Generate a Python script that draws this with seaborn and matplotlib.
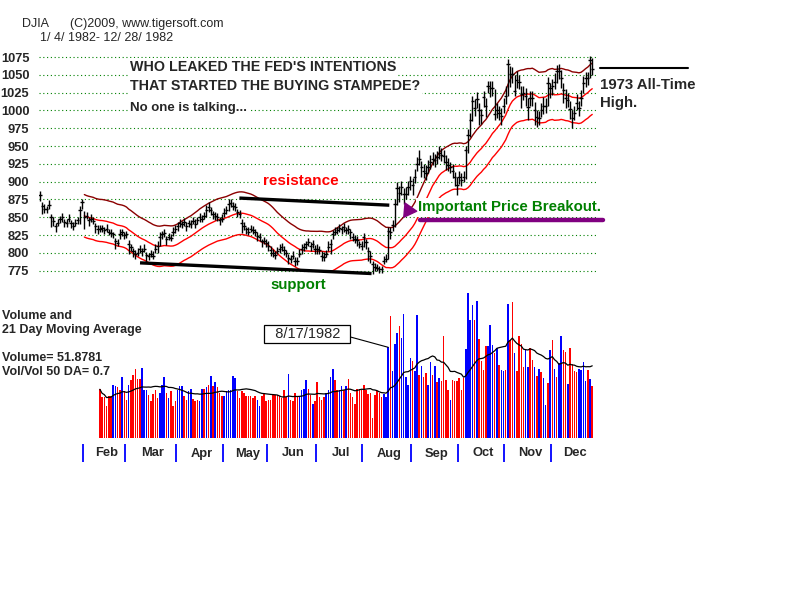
import numpy as np
import pandas as pd
import matplotlib
matplotlib.use('Agg')
import matplotlib.pyplot as plt
import seaborn as sns

# DJIA 1/4/1982 - 12/28/1982, daily closes, by month
close_jan = [881, 866, 862, 861, 867, 851, 845, 838, 842, 847, 850, 844, 842, 848, 842, 838, 842, 846, 860, 871]
close_feb = [851, 852, 846, 848, 845, 838, 834, 833, 835, 832, 834, 830, 828, 826, 816, 814, 826, 829, 825]
close_mar = [826, 812, 808, 802, 798, 800, 805, 802, 806, 797, 795, 798, 796, 806, 810, 822, 826, 828, 820, 823, 821, 830, 833]
close_apr = [838, 842, 840, 843, 838, 842, 840, 845, 841, 846, 850, 848, 852, 860, 865, 860, 855, 852, 850, 846, 848]
close_may = [856, 860, 868, 870, 866, 864, 858, 855, 842, 838, 833, 830, 834, 832, 829, 824, 822, 816, 817, 814]
close_jun = [810, 804, 800, 797, 802, 806, 808, 804, 800, 793, 791, 795, 789, 788, 798, 805, 808, 812, 815, 810, 812, 806]
close_jul = [806, 804, 796, 794, 798, 808, 812, 826, 830, 832, 835, 833, 836, 832, 834, 830, 822, 820, 818, 812, 810]
close_aug = [822, 815, 803, 796, 784, 780, 779, 778, 777, 788, 792, 831, 829, 839, 869, 891, 884, 892, 883, 883, 892, 901]
close_sep = [895, 906, 925, 932, 920, 915, 912, 920, 928, 932, 930, 935, 940, 938, 936, 928, 924, 920, 915, 906, 896]
close_oct = [907, 903, 907, 944, 966, 987, 1013, 1004, 1016, 1000, 993, 1019, 1006, 1034, 1031, 1032, 995, 1001, 996, 992]
close_nov = [1006, 1021, 1065, 1051, 1051, 1028, 1043, 1040, 1023, 1025, 1021, 1005, 1017, 1018, 1000, 991, 990, 1001, 1007, 1007, 1039]
close_dec = [1031, 1034, 1040, 1056, 1056, 1045, 1029, 1018, 1015, 1002, 990, 997, 1011, 1004, 1017, 1038, 1045, 1046, 1071, 1058]

# distance of each bar's high / low from its close
hi_jan = [6, 5, 6, 5, 7, 4, 5, 4, 6, 5, 6, 4, 5, 6, 4, 5, 6, 5, 6, 5]
lo_jan = [8, 12, 6, 5, 6, 14, 7, 8, 4, 5, 6, 7, 5, 4, 7, 6, 4, 5, 20, 10]
hi_feb = [8, 6, 5, 6, 5, 4, 5, 6, 4, 5, 6, 4, 5, 4, 5, 6, 7, 5, 4]
lo_feb = [18, 5, 8, 4, 5, 10, 8, 4, 5, 6, 4, 5, 6, 5, 10, 5, 6, 5, 6]
hi_mar = [5, 6, 4, 5, 6, 7, 6, 5, 6, 4, 5, 6, 7, 6, 7, 8, 5, 6, 4, 5, 6, 7, 6]
lo_mar = [5, 14, 6, 8, 6, 4, 5, 6, 5, 10, 5, 4, 5, 6, 10, 13, 6, 5, 9, 5, 4, 6, 5]
hi_apr = [6, 5, 5, 6, 5, 4, 6, 5, 6, 4, 6, 5, 6, 7, 6, 5, 4, 5, 6, 5, 6]
lo_apr = [7, 6, 5, 5, 7, 6, 5, 4, 6, 5, 6, 5, 4, 9, 8, 7, 8, 6, 5, 7, 4]
hi_may = [7, 6, 8, 6, 5, 6, 4, 5, 6, 5, 4, 6, 5, 6, 4, 5, 6, 4, 5, 6]
lo_may = [5, 6, 9, 5, 6, 5, 8, 6, 14, 6, 7, 5, 4, 6, 5, 7, 5, 8, 5, 6]
hi_jun = [6, 5, 6, 5, 6, 7, 6, 5, 4, 5, 6, 7, 5, 6, 8, 7, 6, 5, 6, 5, 6, 5]
lo_jun = [7, 8, 6, 5, 4, 6, 5, 7, 6, 9, 5, 4, 8, 5, 4, 6, 5, 6, 5, 7, 5, 8]
hi_jul = [6, 5, 6, 7, 6, 8, 7, 6, 6, 5, 6, 5, 6, 5, 5, 4, 6, 5, 6, 5, 6]
lo_jul = [8, 5, 8, 5, 4, 6, 14, 6, 5, 6, 5, 6, 7, 5, 8, 10, 5, 6, 8, 5, 6]
hi_aug = [6, 5, 5, 6, 5, 6, 5, 4, 5, 8, 6, 6, 8, 7, 6, 8, 10, 9, 8, 10, 9, 7]
lo_aug = [14, 9, 14, 10, 13, 6, 5, 6, 5, 4, 5, 40, 10, 8, 32, 24, 12, 10, 14, 8, 10, 12]
hi_sep = [10, 12, 10, 12, 9, 10, 11, 10, 9, 10, 9, 8, 10, 9, 8, 10, 9, 8, 10, 8, 10]
lo_sep = [14, 8, 10, 9, 14, 10, 9, 8, 10, 8, 9, 10, 8, 9, 10, 12, 9, 8, 10, 12, 14]
hi_oct = [8, 9, 8, 6, 8, 10, 8, 12, 10, 10, 9, 8, 12, 8, 10, 9, 35, 9, 10, 12]
lo_oct = [10, 9, 8, 40, 25, 24, 28, 12, 12, 20, 12, 14, 15, 10, 12, 12, 8, 12, 10, 12]
hi_nov = [12, 14, 8, 12, 10, 22, 12, 10, 12, 10, 10, 12, 10, 9, 12, 10, 9, 10, 12, 10, 8]
lo_nov = [10, 12, 45, 18, 12, 8, 12, 10, 20, 10, 14, 18, 10, 12, 20, 14, 10, 10, 12, 10, 32]
hi_dec = [8, 10, 12, 8, 10, 12, 10, 12, 10, 12, 10, 10, 12, 10, 12, 10, 9, 8, 6, 16]
lo_dec = [14, 12, 10, 18, 12, 14, 18, 14, 10, 14, 14, 10, 10, 12, 10, 14, 12, 10, 26, 8]

# volume (millions of shares), shown from bar 27 on; b = up day, r = down day
vol_first_bar = 27
volumes = [49, 41, 41, 32, 42, 42, 53, 52, 51, 48,
           61, 47, 38, 53, 58, 63, 69, 59, 59, 70,
           48, 48, 43, 37, 44, 48, 40, 45, 53, 61,
           45, 40, 47, 32, 37, 48, 52, 52, 42, 38,
           47, 49, 39, 37, 38, 37, 49, 49, 51, 53,
           62, 52, 56, 51, 45, 42, 42, 47, 48, 48,
           62, 60, 47, 40, 47, 45, 42, 42, 42, 40,
           42, 38, 32, 42, 45, 37, 38, 38, 44, 43,
           43, 42, 40, 48, 41, 64, 38, 37, 45, 41,
           42, 48, 49, 58, 49, 43, 34, 37, 56, 41,
           38, 41, 45, 48, 61, 69, 58, 48, 48, 52,
           48, 52, 59, 45, 41, 34, 49, 49, 48, 53,
           48, 44, 45, 20, 43, 47, 45, 41, 44, 41,
           91, 122, 67, 94, 105, 112, 100, 124, 61, 53,
           80, 77, 67, 123, 63, 72, 61, 65, 53, 76,
           63, 72, 56, 60, 57, 102, 58, 48, 38, 58,
           57, 57, 60, 48, 60, 89, 145, 118, 133, 118,
           137, 99, 77, 68, 92, 92, 113, 93, 85, 90,
           73, 68, 67, 68, 134, 98, 136, 85, 67, 102,
           94, 71, 88, 71, 90, 78, 71, 62, 69, 66,
           60, 33, 55, 88, 98, 69, 61, 75, 102, 88,
           86, 54, 90, 74, 67, 66, 69, 68, 76, 57,
           68, 59, 51.8781]
vol_updown = ("rrrrrrbbrr" "brrbrrrrrb" "bbrrrrrbbb" "rbrrrbbbrr" "bbrrrbbrbr"
              "brbrrrbbbb" "bbrrrrrrrr" "rbbrrrrrrr" "rrrrrbrrrr" "bbbbrrbrrr"
              "rrbbbbrrbb" "rbrrrrrrrr" "rrrrrrrrbb"
              "brbbbrbbbb" "brbbrbrrbb" "rbrbrrrrbr" "rrrrrbbbbr" "brrrrbbbrb"
              "rbbrbrrbrr" "rrbbrrbrbr" "bbrbrbrbbr" "rbrrrrbbbb" "rbr")

month_names = ['Feb', 'Mar', 'Apr', 'May', 'Jun', 'Jul', 'Aug', 'Sep', 'Oct', 'Nov', 'Dec']
month_first_bar = [20, 39, 62, 83, 103, 125, 146, 168, 189, 210, 231]
price_levels = [775, 800, 825, 850, 875, 900, 925, 950, 975, 1000, 1025, 1050, 1075]

# trend lines drawn on the chart (bar index, price)
resistance_x, resistance_y = [89.9, 157.5], [877, 867]
support_x, support_y = [45.1, 149.5], [786, 771]
breakout_bar = 157

closes = np.array(close_jan + close_feb + close_mar + close_apr + close_may + close_jun
                  + close_jul + close_aug + close_sep + close_oct + close_nov + close_dec, float)
highs = closes + np.array(hi_jan + hi_feb + hi_mar + hi_apr + hi_may + hi_jun
                          + hi_jul + hi_aug + hi_sep + hi_oct + hi_nov + hi_dec)
lows = closes - np.array(lo_jan + lo_feb + lo_mar + lo_apr + lo_may + lo_jun
                         + lo_jul + lo_aug + lo_sep + lo_oct + lo_nov + lo_dec)
days = np.arange(len(closes))

df = pd.DataFrame({'day': days, 'close': closes})
df['ma'] = df['close'].rolling(21).mean()
df['upper'] = df['ma'] * 1.035
df['lower'] = df['ma'] * 0.965

vol = pd.DataFrame({'day': np.arange(vol_first_bar, vol_first_bar + len(volumes)),
                    'vol': volumes,
                    'col': ['#0000FF' if c == 'b' else '#FF0000' for c in vol_updown]})
vol['ma'] = vol['vol'].rolling(21, min_periods=1).mean()

sns.set_theme(style='white')
plt.rcParams['font.family'] = ['Liberation Sans', 'DejaVu Sans']

W, H = 800, 600
fig = plt.figure(figsize=(8, 6), dpi=100)
fig.patch.set_facecolor('white')


def px_axes(x0, y0, x1, y1):
    a = fig.add_axes([x0 / W, 1 - y1 / H, (x1 - x0) / W, (y1 - y0) / H])
    a.set_facecolor('none')
    for s in a.spines.values():
        s.set_visible(False)
    return a


def ftext(x, y, s, **kw):
    kw.setdefault('va', 'center')
    kw.setdefault('fontsize', 9)
    fig.text(x / W, 1 - y / H, s, **kw)


# ---- price chart
ax = px_axes(39, 45, 596, 285)
ax.set_xlim(-0.45, 250.7)
ax.set_ylim(754.9, 1092)
ax.set_xticks([])
ax.set_yticks(price_levels, labels=[str(v) for v in price_levels])
ax.tick_params(axis='y', length=0, pad=7, labelsize=9.3)
for t in ax.get_yticklabels():
    t.set_fontweight('bold')
ax.yaxis.grid(True, color='#008000', lw=0.8, linestyle=(0, (1, 2.4)))
ax.set_axisbelow(True)

sns.lineplot(data=df, x='day', y='upper', color='#8B0000', lw=1, ax=ax)
sns.lineplot(data=df, x='day', y='ma', color='#FF0000', lw=1, ax=ax)
sns.lineplot(data=df, x='day', y='lower', color='#FF0000', lw=1, ax=ax)
ax.vlines(days, lows, highs, color='black', lw=1.0, zorder=3)
ax.hlines(closes, days - 0.75, days + 0.75, color='black', lw=1.0, zorder=3)
ax.set_xlabel('')
ax.set_ylabel('')

ax.plot(resistance_x, resistance_y, color='black', lw=2.4, solid_capstyle='butt', zorder=4)
ax.plot(support_x, support_y, color='black', lw=2.4, solid_capstyle='butt', zorder=4)

box = dict(facecolor='white', edgecolor='none', pad=1.5)
ax.text(100.5, 900.3, 'resistance', color='#FF0000', fontsize=11, fontweight='bold',
        va='center', ha='left', bbox=box, zorder=5)
ax.text(103.7, 755.5, 'support', color='#008000', fontsize=10.8, fontweight='bold',
        va='center', ha='left', clip_on=False, zorder=5)
ax.text(170.5, 863.8, 'Important Price Breakout.', color='#008000', fontsize=10.8,
        fontweight='bold', va='center', ha='left', bbox=box, clip_on=False, zorder=5)
ax.plot([171.3, 253.7], [846.2, 846.2], color='#800080', lw=3.2, solid_capstyle='round',
        clip_on=False, zorder=5)
ax.scatter([166.1], [860], marker=(3, 0, 25), s=140, color='#800080', zorder=6)
ax.plot([252.5, 292], [1060, 1060], color='black', lw=1.5, clip_on=False)

ax.text(40.5, 1060.5, "WHO LEAKED THE FED'S INTENTIONS", fontsize=10.3, fontweight='bold',
        va='center', ha='left', bbox=box, zorder=5)
ax.text(40.5, 1034, 'THAT STARTED THE BUYING STAMPEDE?', fontsize=10.3, fontweight='bold',
        va='center', ha='left', bbox=box, zorder=5)
ax.text(40.5, 1003.5, 'No one is talking...', fontsize=9.5, fontweight='bold',
        va='center', ha='left', bbox=box, zorder=5)

# ---- volume chart
axv = px_axes(39, 290, 596, 438.3)
axv.set_xlim(-0.45, 250.7)
axv.set_ylim(0, 148.3)
axv.set_xticks([])
axv.set_yticks([])
axv.bar(vol['day'], vol['vol'], width=0.68, color=vol['col'], linewidth=0)
sns.lineplot(data=vol, x='day', y='ma', color='black', lw=0.9, ax=axv)
axv.set_xlabel('')
axv.set_ylabel('')
b = breakout_bar - vol_first_bar
axv.annotate('  8/17/1982  ', xy=(breakout_bar, volumes[b]), xytext=(120.6, 104),
             fontsize=10.5, ha='center', va='center',
             bbox=dict(boxstyle='square,pad=0.15', fc='white', ec='black', lw=0.9),
             arrowprops=dict(arrowstyle='-', color='black', lw=0.8, relpos=(1.0, 0.35),
                             shrinkA=0, shrinkB=0))

# ---- month strip
axm = px_axes(39, 443, 596, 464)
axm.set_xlim(-0.45, 250.7)
axm.set_ylim(0, 1)
axm.set_xticks([])
axm.set_yticks([])
ticks = np.array(month_first_bar) - 0.6
axm.vlines(ticks, 0.1, 0.95, color='#0000FF', lw=1.3)
mids = (ticks + np.append(ticks[1:], len(closes))) / 2
for m, name in zip(mids, month_names):
    axm.text(m + 1, 0.5, name, ha='center', va='center', fontsize=9.3, fontweight='bold')

# ---- header and side texts
ftext(22, 24, 'DJIA')
ftext(70, 24, '(C)2009, www.tigersoft.com')
ftext(40, 38, '1/ 4/ 1982- 12/ 28/ 1982')
ftext(600, 85, '1973 All-Time', fontsize=10.8, fontweight='bold')
ftext(600, 103, 'High.', fontsize=10.8, fontweight='bold')
ftext(2, 316, 'Volume and', fontweight='bold')
ftext(2, 330, '21 Day Moving Average', fontweight='bold')
ftext(2, 358, 'Volume= 51.8781', fontweight='bold')
ftext(2, 372, 'Vol/Vol 50 DA= 0.7', fontweight='bold')

fig.savefig('out.png', dpi=100, facecolor='white')
